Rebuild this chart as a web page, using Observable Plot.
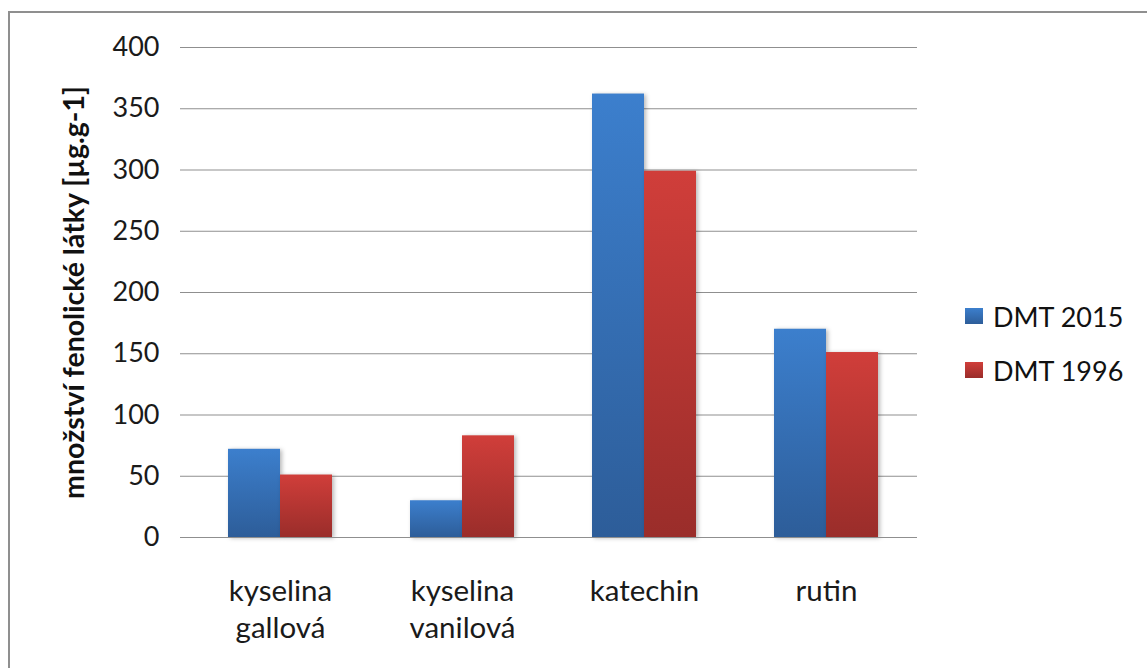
<!DOCTYPE html>
<html>
<head>
<meta charset="utf-8">
<script src="https://cdn.jsdelivr.net/npm/d3@7"></script>
<script src="https://cdn.jsdelivr.net/npm/@observablehq/plot@0.6"></script>
<style>
  html, body { margin: 0; padding: 0; background: #fff; overflow: hidden; }
  #wrap { position: relative; width: 1147px; height: 668px; overflow: hidden; font-family: Lato, sans-serif; }
  #border { position: absolute; left: 8px; top: 11px; width: 1200px; height: 700px; border: 2px solid #8f8f8f; box-sizing: border-box; pointer-events: none; }
  #chart { position: absolute; left: 0; top: 0; }
  #chart g[aria-label="bar"] rect { filter: drop-shadow(2px 1px 2px rgba(0,0,0,0.28)); }
  .legend { position: absolute; left: 965px; font-size: 27px; color: #111; display: flex; align-items: center; }
  .legend .sw { width: 18px; height: 16px; margin-right: 10px; }
</style>
</head>
<body>
<div id="wrap">
  <div id="border"></div>
  <div id="chart"></div>
  <div id="legend"></div>
</div>
<script>
// Phenolic content per compound, two sampling years
const categories = ["kyselina\ngallová", "kyselina\nvanilová", "katechin", "rutin"];
const series = ["DMT 2015", "DMT 1996"];
const dmt2015 = [72, 30, 362, 170];
const dmt1996 = [51, 83, 299, 151];
const yTicks = [0, 50, 100, 150, 200, 250, 300, 350, 400];
const yTitle = "množství fenolické látky [µg.g-1]";

// gradient ids per series (top colour, bottom colour)
const gradients = [
  {id: "g2015", top: "#3c7fcd", bottom: "#2d5d99"},
  {id: "g1996", top: "#d03e3a", bottom: "#9a2d2a"}
];

const rows = [];
categories.forEach((c, i) => {
  rows.push({category: c, series: series[0], value: dmt2015[i]});
  rows.push({category: c, series: series[1], value: dmt1996[i]});
});

const grid = "#8f8f8f";

const chart = Plot.plot({
  width: 1147,
  height: 668,
  marginLeft: 189,
  marginRight: 230,
  marginTop: 47,
  marginBottom: 131,
  style: {fontFamily: "Lato, sans-serif", fontSize: "27px", color: "#1a1a1a", background: "transparent"},
  fx: {domain: categories, padding: 0, label: null},
  x: {domain: series, paddingInner: 0, paddingOuter: 0.75, axis: null},
  y: {domain: [0, 400], label: null},
  color: {domain: series, range: gradients.map(g => `url(#${g.id})`)},
  marks: [
    Plot.gridY(yTicks, {stroke: grid, strokeOpacity: 1, strokeWidth: 1.2}),
    Plot.axisY(yTicks, {tickSize: 9, tickPadding: 21, stroke: grid, fill: "#1a1a1a", line: true, label: null, fontSize: 27}),
    Plot.axisFx({anchor: "bottom", tickSize: 0, tickPadding: 37, lineHeight: 1.25, label: null, fontSize: 29.5, fill: "#1a1a1a"}),
    Plot.barY(rows, {fx: "category", x: "series", y: "value", fill: "series"}),
    Plot.ruleY([0], {stroke: grid, strokeWidth: 1.2}),
    Plot.text([yTitle], {fx: [categories[0]], frameAnchor: "left", textAnchor: "middle", rotate: -90, dx: -115, text: d => d, fontWeight: "bold", fontSize: 28.5, fill: "#111"})
  ]
});

// gradient definitions for the bar fills
const defs = d3.select(chart).insert("defs", ":first-child");
gradients.forEach(g => {
  const lg = defs.append("linearGradient").attr("id", g.id).attr("x1", 0).attr("y1", 0).attr("x2", 0).attr("y2", 1);
  lg.append("stop").attr("offset", "0%").attr("stop-color", g.top);
  lg.append("stop").attr("offset", "100%").attr("stop-color", g.bottom);
});

document.getElementById("chart").appendChild(chart);

// legend on the right
const legendTops = [298, 352];
const leg = document.getElementById("legend");
series.forEach((s, i) => {
  const item = document.createElement("div");
  item.className = "legend";
  item.style.top = legendTops[i] + "px";
  item.style.height = "36px";
  const sw = document.createElement("div");
  sw.className = "sw";
  sw.style.background = `linear-gradient(${gradients[i].top}, ${gradients[i].bottom})`;
  const tx = document.createElement("span");
  tx.textContent = s;
  item.appendChild(sw);
  item.appendChild(tx);
  leg.appendChild(item);
});
</script>
</body>
</html>
